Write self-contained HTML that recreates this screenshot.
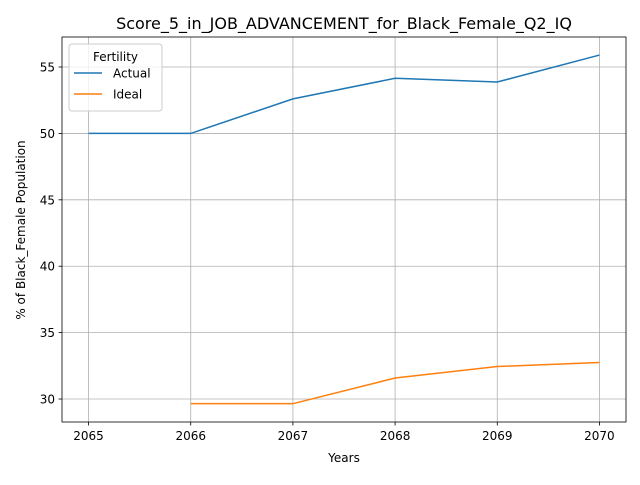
<!DOCTYPE html>
<html><head><meta charset="utf-8"><style>
body{margin:0;background:#fff}
svg text{font-family:"DejaVu Sans","Liberation Sans",sans-serif;fill:#000}
</style></head><body>
<svg id="chart" width="640" height="480"></svg>
<script>
const years=[2065,2066,2067,2068,2069,2070];
const actual=[50,50,52.6,54.15,53.87,55.9];
const idealYears=[2066,2067,2068,2069,2070];
const ideal=[29.65,29.65,31.58,32.45,32.75];
const yTicks=[30,35,40,45,50,55];
const xTicks=[2065,2066,2067,2068,2069,2070];

const NS="http://www.w3.org/2000/svg";
const svg=document.getElementById('chart');
const L=62,R=626,T=37,B=422;
const X0=2064.74,X1=2070.26,Y0=28.27,Y1=57.26;
const sx=v=>L+(v-X0)/(X1-X0)*(R-L);
const sy=v=>B-(v-Y0)/(Y1-Y0)*(B-T);
function el(t,a,txt){const e=document.createElementNS(NS,t);for(const k in a)e.setAttribute(k,a[k]);if(txt!==undefined)e.textContent=txt;svg.appendChild(e);return e;}

let e=el('text',{x:344,y:29,'text-anchor':'middle','font-size':16},'Score_5_in_JOB_ADVANCEMENT_for_Black_Female_Q2_IQ');



xTicks.forEach(v=>{
  const x=sx(v);
  let g=el('line',{x1:x,x2:x,y1:T,y2:B,stroke:'#b0b0b0','stroke-width':0.8});
  
  
  el('line',{x1:x,x2:x,y1:B,y2:B+3.5,stroke:'#000','stroke-width':0.8});
  let t=el('text',{x:x,y:B+18,'text-anchor':'middle','font-size':12},String(v));
  
  
});
yTicks.forEach(v=>{
  const y=sy(v);
  let g=el('line',{x1:L,x2:R,y1:y,y2:y,stroke:'#b0b0b0','stroke-width':0.8});
  
  
  el('line',{x1:L-3.5,x2:L,y1:y,y2:y,stroke:'#000','stroke-width':0.8});
  let t=el('text',{x:L-7,y:y+4.5,'text-anchor':'end','font-size':12},String(v));
  
  
});
let fr=el('rect',{x:L,y:T,width:R-L,height:B-T,fill:'none',stroke:'#000','stroke-width':0.8});



let p1=el('polyline',{points:years.map((y,i)=>sx(y)+','+sy(actual[i])).join(' '),fill:'none',stroke:'#1f77b4','stroke-width':1.5});


let p2=el('polyline',{points:idealYears.map((y,i)=>sx(y)+','+sy(ideal[i])).join(' '),fill:'none',stroke:'#ff7f0e','stroke-width':1.5});



let xl=el('text',{x:344,y:462,'text-anchor':'middle','font-size':12},'Years');


let yl=el('text',{x:25,y:230,'text-anchor':'middle','font-size':12,transform:'rotate(-90 25 230)'},'% of Black_Female Population');



let lg=el('rect',{x:69,y:44,width:93,height:67,rx:3,fill:'#fff','fill-opacity':0.8,stroke:'#ccc'});


let lt=el('text',{x:115.5,y:61,'text-anchor':'middle','font-size':12},'Fertility');


[['Actual','#1f77b4',77],['Ideal','#ff7f0e',98]].forEach(([n,c,y])=>{
  let l=el('line',{x1:74,x2:102,y1:y-4,y2:y-4,stroke:c,'stroke-width':1.5});
  
  
  let t=el('text',{x:113,y:y+0.5,'font-size':12},n);
  
  
});
</script>
</body></html>
